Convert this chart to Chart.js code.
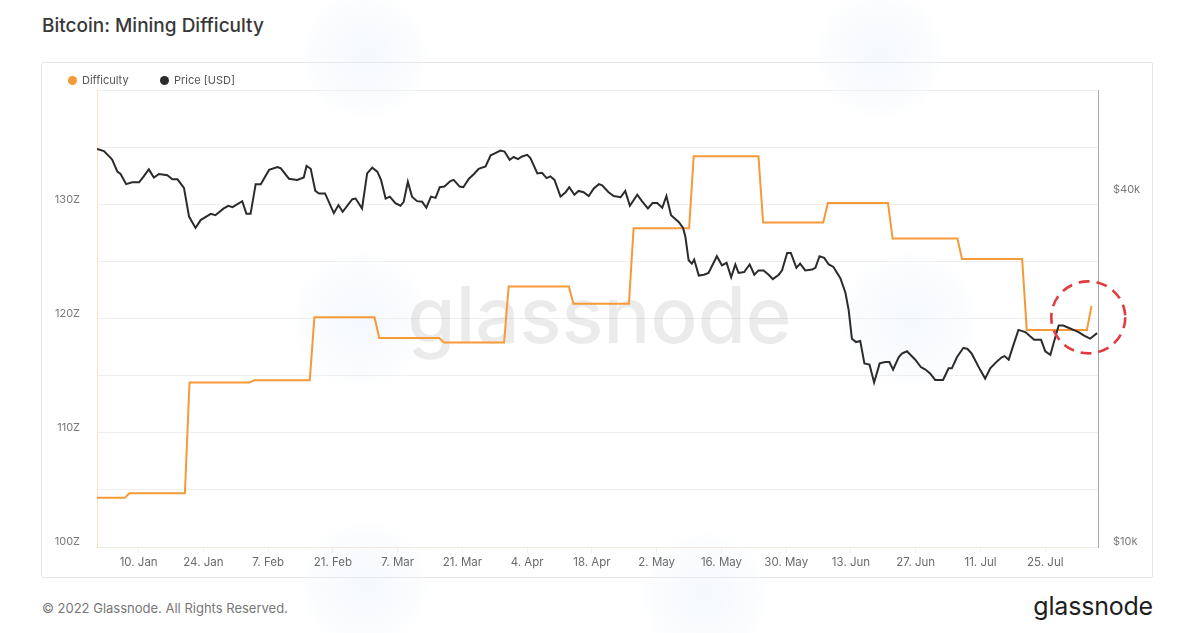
<!DOCTYPE html>
<html>
<head>
<meta charset="utf-8">
<title>Bitcoin: Mining Difficulty</title>
<script src="https://cdn.jsdelivr.net/npm/chart.js@4.4.0/dist/chart.umd.min.js"></script>
<style>
  html, body { margin: 0; padding: 0; background: #fff; }
  body { width: 1179px; height: 633px; position: relative; overflow: hidden; font-family: Inter, "Noto Sans", sans-serif; }
  .blob { position: absolute; border-radius: 50%; background: radial-gradient(circle, rgba(236,242,250,0.55) 0%, rgba(242,246,251,0.3) 55%, rgba(255,255,255,0) 72%); }
  .title { position: absolute; left: 42px; top: 14px; line-height: 24px; font-size: 19px; font-weight: 500; color: #383838; }
  .panel { position: absolute; left: 41px; top: 62px; width: 1110px; height: 514px; border: 1px solid #e7e7e7; border-radius: 2px; }
  .chart-box { position: absolute; left: 41px; top: 62px; width: 1112px; height: 516px; }
  .legend { position: absolute; left: 68px; top: 72px; font-size: 11px; color: #555; line-height: 16px; }
  .legend span { position: absolute; white-space: nowrap; }
  .legend i { position: absolute; top: 3.5px; width: 9px; height: 9px; border-radius: 50%; }
  .footer { position: absolute; left: 42px; top: 600px; font-size: 13px; line-height: 16px; color: #777; }
  .logo { position: absolute; right: 26px; top: 591px; font-size: 25px; line-height: 30px; color: #1e1e1e; letter-spacing: -0.2px; }
</style>
</head>
<body>
<div class="blob" style="left:300px;top:-10px;width:130px;height:130px;"></div>
<div class="blob" style="left:815px;top:-10px;width:130px;height:130px;"></div>
<div class="blob" style="left:290px;top:250px;width:140px;height:140px;"></div>
<div class="blob" style="left:840px;top:250px;width:140px;height:140px;"></div>
<div class="blob" style="left:300px;top:520px;width:130px;height:130px;"></div>
<div class="blob" style="left:640px;top:530px;width:130px;height:130px;"></div>

<div class="title">Bitcoin: Mining Difficulty</div>
<div class="panel"></div>
<div class="chart-box"><canvas id="chart" width="1112" height="516"></canvas></div>
<div class="legend">
  <span style="left:0;"><i style="left:0;background:#f59a36;"></i><b style="font-weight:400;margin-left:14px;">Difficulty</b></span>
  <span style="left:92px;"><i style="left:0;background:#2b2b2b;"></i><b style="font-weight:400;margin-left:14px;">Price [USD]</b></span>
</div>
<div class="footer">© 2022 Glassnode. All Rights Reserved.</div>
<div class="logo">glassnode</div>

<script>
(function () {
    "use strict";

    // x axis: days since 1 Jan 2022
    var tickDays = [9, 23, 37, 51, 65, 79, 93, 107, 121, 135, 149, 163, 177, 191, 205];
    var tickLabels = ['10. Jan', '24. Jan', '7. Feb', '21. Feb', '7. Mar', '21. Mar', '4. Apr', '18. Apr',
        '2. May', '16. May', '30. May', '13. Jun', '27. Jun', '11. Jul', '25. Jul'];

    // Difficulty (Z): first day of each adjustment epoch and its level
    var diffStartDays = [0, 7, 20, 34, 47, 61, 75, 89, 103, 116, 129, 144, 158, 172, 187, 201, 215];
    var diffValues = [104.3, 104.7, 114.4, 114.6, 120.1, 118.3, 117.9, 122.8, 121.3, 127.9, 134.2, 128.4, 130.1, 127.0, 125.2, 119.0, 121.1];

    // Price [USD]
    var priceDays = [0, 1.5, 3.0, 3.3, 4.4, 5.1, 6.3, 7.6, 9.1, 10.1, 11.2, 12.3, 13.4, 15.2, 16.3, 17.4, 18.8, 19.9,
        21.3, 22.4, 24.6, 25.6, 27.4, 28.4, 29.3, 31.4, 32.3, 33.2, 34.3, 35.4, 37.2, 39.0, 39.7, 41.5, 43.3,
        44.7, 45.3, 46.2, 47.2, 48.0, 49.3, 51.2, 52.2, 53.1, 55.2, 55.9, 57.3, 58.4, 59.5, 60.6, 61.4, 62.4,
        63.3, 64.5, 65.6, 66.3, 67.2, 68.1, 69.2, 70.3, 71.2, 72.2, 73.2, 74.1, 75.1, 76.4, 77.1, 78.4, 79.2,
        80.4, 81.5, 82.5, 84.0, 85.1, 86.1, 87.2, 88.1, 89.2, 90.1, 91.0, 91.9, 93.0, 93.7, 95.2, 96.2, 97.2,
        98.0, 98.9, 100.2, 101.3, 102.1, 103.2, 104.1, 105.2, 106.3, 107.4, 108.5, 109.2, 110.6, 111.7, 113.2,
        114.2, 115.2, 116.8, 117.8, 119.1, 120.1, 121.1, 122.2, 123.1, 124.1, 125.8, 126.7, 127.2, 127.9, 128.6,
        129.1, 130.1, 131.2, 132.2, 134.0, 135.1, 136.1, 137.1, 138.0, 138.7, 139.9, 141.1, 142.1, 143.0, 144.1,
        145.2, 146.1, 147.4, 148.1, 149.2, 150.0, 151.2, 152.0, 153.1, 154.6, 155.3, 156.2, 157.2, 158.2, 159.2,
        160.7, 161.8, 162.5, 163.2, 164.1, 165.0, 165.9, 167.0, 168.0, 169.2, 170.4, 171.3, 172.1, 173.3, 174.0,
        175.1, 176.9, 178.1, 179.1, 180.1, 181.2, 182.9, 184.1, 184.8, 185.9, 187.3, 188.2, 189.1, 190.9, 192.0,
        193.1, 194.4, 195.6, 196.2, 197.1, 198.0, 199.2, 200.7, 202.6, 204.1, 205.0, 206.1, 206.8, 207.9, 208.9,
        210.0, 211.1, 212.2, 213.3, 214.7, 216.2];
    var priceValues = [47900, 47500, 46200, 45900, 43800, 43400, 41700, 42000, 42000, 43000, 44200, 42800, 43400, 43200, 42500, 42500, 41100, 36700,
        35100, 36200, 37100, 36900, 37900, 38300, 38100, 39000, 37100, 37100, 41700, 41700, 44100, 44600, 44400, 42600, 42400,
        42800, 44800, 44300, 40600, 40200, 40200, 37200, 38400, 37400, 39300, 39400, 37900, 43500, 44500, 43800, 42400, 39400,
        39700, 38700, 38300, 38900, 42100, 39700, 39000, 38900, 38000, 39700, 39500, 41200, 41300, 42200, 42400, 41300, 41200,
        42600, 43400, 44300, 44700, 46700, 47100, 47600, 47400, 45900, 46400, 46000, 46500, 46800, 46200, 43500, 43600, 42700,
        43000, 42400, 39700, 40400, 41200, 40000, 40600, 40400, 39800, 41000, 41700, 41500, 40400, 39800, 39600,
        40600, 38300, 40000, 39000, 37900, 38700, 38700, 38000, 39800, 36900, 35900, 35100, 33900, 30900, 30500,
        31000, 29100, 29200, 29400, 31400, 30300, 30600, 28900, 30400, 29400, 29500, 30400, 29200, 29700, 29700,
        29200, 28700, 29200, 29700, 31800, 31800, 30000, 30500, 29700, 29800, 30000, 31400, 31200, 30400, 30100,
        28800, 27200, 25400, 22700, 22400, 22500, 20600, 20500, 19100, 20600, 20700, 20700, 20100, 21100, 21400,
        21600, 20900, 20300, 20100, 19800, 19300, 19300, 20200, 20200, 21100, 21900, 21800, 21400, 20100, 19400,
        20200, 20700, 21100, 21200, 20900, 22000, 23500, 23300, 22600, 22600, 21600, 21300, 22300, 23900, 23900,
        23700, 23500, 23300, 23000, 22700, 23200];

    var ORANGE = '#f59a36';
    var DARK = '#2b2b2b';

    var pricePoints = priceDays.map(function (d, i) { return { x: d, y: priceValues[i] }; });

    // each epoch is flat until the day before the next adjustment
    var diffPoints = [];
    diffStartDays.forEach(function (d, i) {
        diffPoints.push({ x: d, y: diffValues[i] });
        if (i < diffStartDays.length - 1) diffPoints.push({ x: diffStartDays[i + 1] - 1, y: diffValues[i] });
    });

    var decorations = {
        id: 'decorations',
        beforeDatasetsDraw: function (chart) {
            var ctx = chart.ctx, a = chart.chartArea;
            ctx.save();
            ctx.font = '500 78px Inter, "Noto Sans", sans-serif';
            ctx.fillStyle = 'rgba(0,0,0,0.08)';
            ctx.textAlign = 'center';
            ctx.textBaseline = 'alphabetic';
            ctx.fillText('glassnode', (a.left + a.right) / 2 + 2, a.top + 253);
            ctx.restore();
        },
        afterDatasetsDraw: function (chart) {
            var ctx = chart.ctx;
            var cx = chart.scales.x.getPixelForValue(214.3);
            var cy = chart.scales.y.getPixelForValue(120.1);
            ctx.save();
            ctx.strokeStyle = '#e23a3f';
            ctx.lineWidth = 2.6;
            ctx.setLineDash([11, 7]);
            ctx.beginPath();
            ctx.ellipse(cx, cy, 37, 36, 0, 0, Math.PI * 2);
            ctx.stroke();
            ctx.restore();
        }
    };

    Chart.defaults.font.family = 'Inter, "Noto Sans", sans-serif';
    Chart.defaults.font.size = 11;
    Chart.defaults.color = '#777';

    new Chart(document.getElementById('chart'), {
        type: 'line',
        data: {
            datasets: [
                { label: 'Price [USD]', data: pricePoints, yAxisID: 'y1', borderColor: DARK, borderWidth: 2, pointRadius: 0, tension: 0, order: 0 },
                { label: 'Difficulty', data: diffPoints, yAxisID: 'y', borderColor: ORANGE, borderWidth: 2, pointRadius: 0, tension: 0, order: 1 }
            ]
        },
        options: {
            responsive: false,
            animation: false,
            layout: { padding: { top: 28, left: 0, right: 0, bottom: 0 } },
            plugins: { legend: { display: false }, tooltip: { enabled: false } },
            scales: {
                x: {
                    type: 'linear', min: 0, max: 216.4,
                    afterBuildTicks: function (axis) { axis.ticks = tickDays.map(function (v) { return { value: v }; }); },
                    afterFit: function (s) { s.height = 31; },
                    ticks: {
                        autoSkip: false, maxRotation: 0, padding: 3, color: '#6a6a6a', font: { size: 11.5 },
                        callback: function (v, i) { return tickLabels[i]; }
                    },
                    grid: { drawOnChartArea: false, drawTicks: true, tickLength: 6, color: '#efefef' },
                    border: { display: true, color: '#f1ebe3' }
                },
                y: {
                    position: 'left', min: 100, max: 140,
                    afterFit: function (s) { s.width = 56; },
                    ticks: {
                        stepSize: 5, padding: 17, labelOffset: -5, color: '#7a7a7a',
                        callback: function (v) { return (v % 10 === 0 && v < 140) ? v + 'Z' : ''; }
                    },
                    grid: { color: '#efefef', drawTicks: false },
                    border: { display: true, color: 'rgba(245,154,54,0.3)' }
                },
                y1: {
                    type: 'logarithmic', position: 'right', min: 10000, max: 60400,
                    afterBuildTicks: function (axis) { axis.ticks = [{ value: 10000 }, { value: 40000 }]; },
                    afterFit: function (s) { s.width = 55; },
                    ticks: {
                        padding: 15, labelOffset: -5, color: '#7a7a7a',
                        callback: function (v) { return '$' + (v / 1000) + 'k'; }
                    },
                    grid: { drawOnChartArea: false, drawTicks: false },
                    border: { display: true, color: '#a8a8a8' }
                }
            }
        },
        plugins: [decorations]
    });
})();
</script>
</body>
</html>
